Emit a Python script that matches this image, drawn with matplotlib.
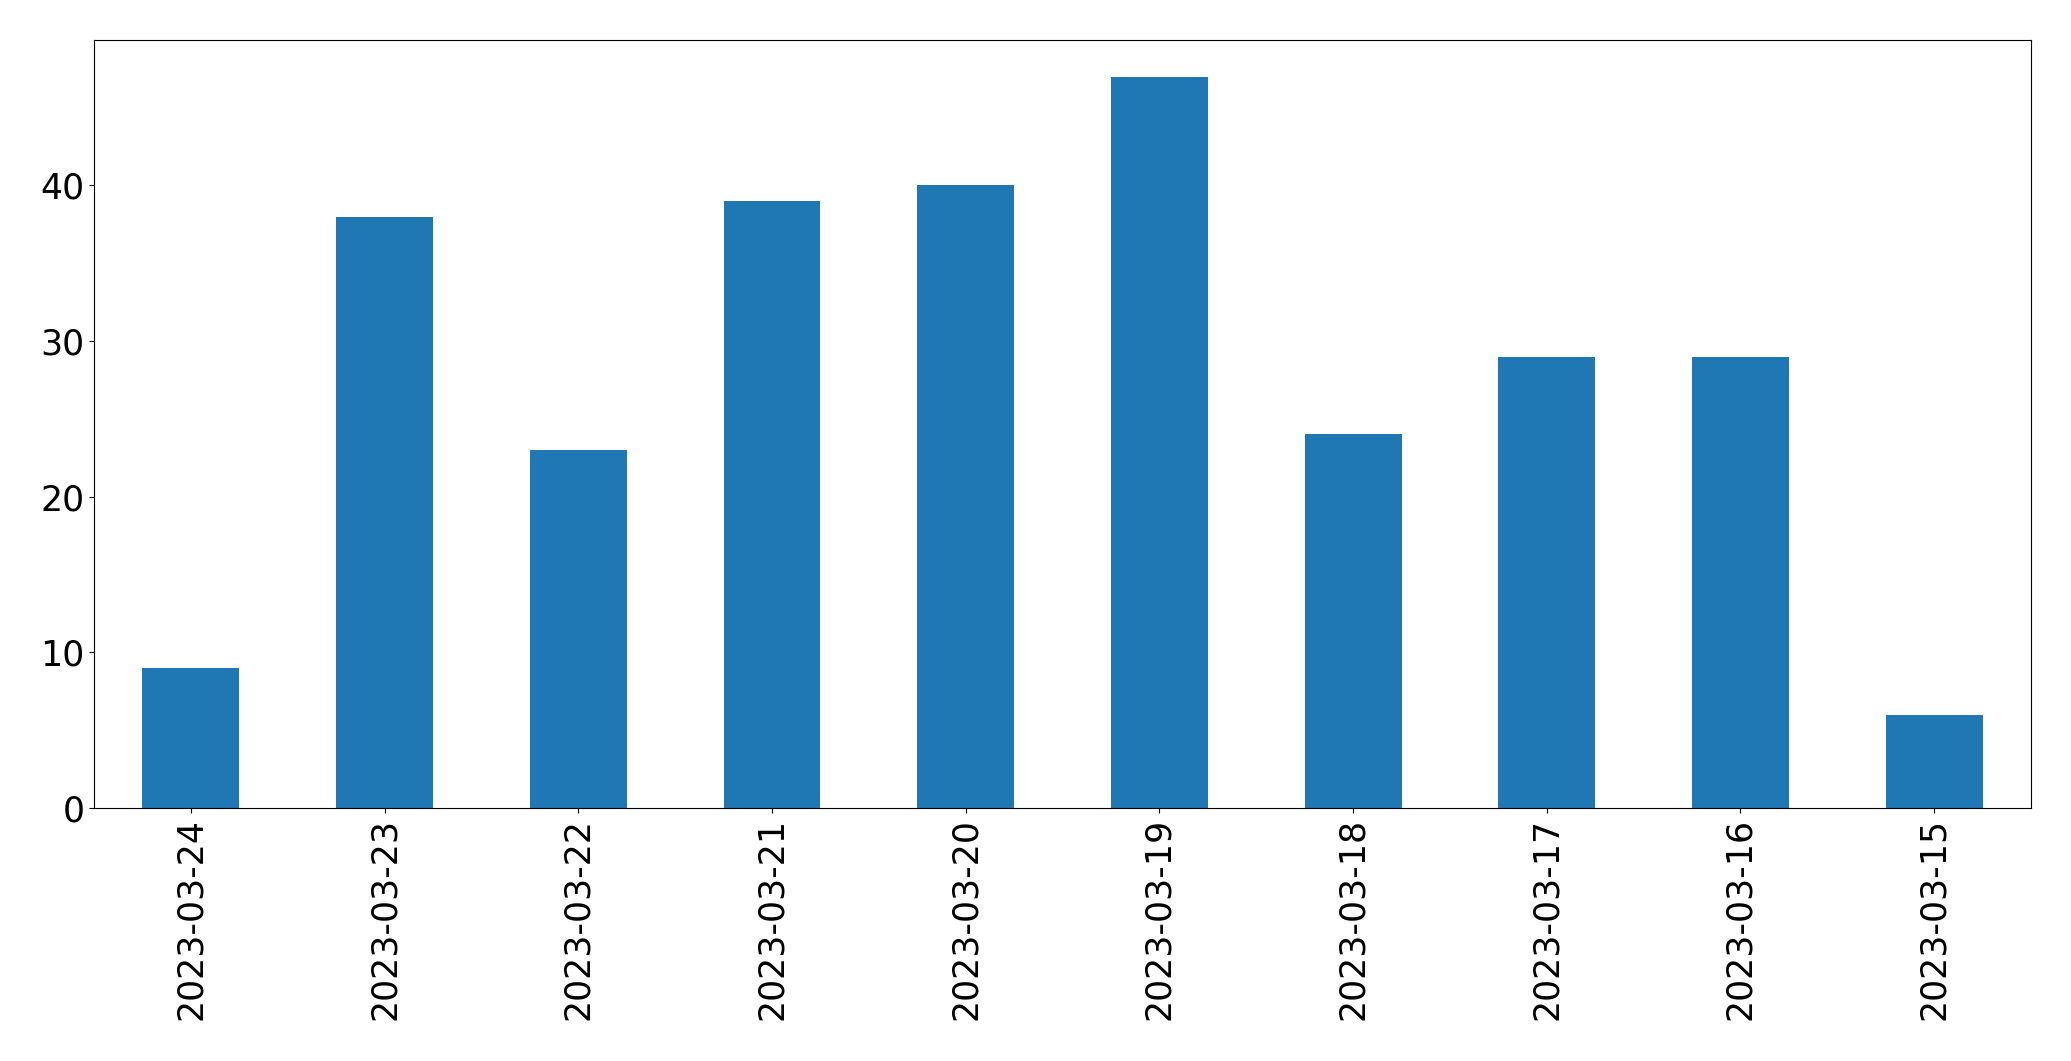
import numpy as np
import matplotlib
matplotlib.use("Agg")
import matplotlib.pyplot as plt

dates = ["2023-03-24", "2023-03-23", "2023-03-22", "2023-03-21", "2023-03-20",
         "2023-03-19", "2023-03-18", "2023-03-17", "2023-03-16", "2023-03-15"]
counts = [9, 38, 23, 39, 40, 47, 24, 29, 29, 6]

fig = plt.figure(figsize=(20.71, 10.61), dpi=100)
ax = fig.add_axes([0.0454, 0.2385, 0.9353, 0.7238])
x = np.arange(len(dates))
ax.bar(x, counts, width=0.5, color="#1f77b4")
ax.set_xlim(-0.5, len(dates) - 0.5)
ax.set_xticks(x)
ax.set_xticklabels(dates, rotation=90)
ax.tick_params(labelsize=25)
fig.savefig("out.png", dpi=100)
